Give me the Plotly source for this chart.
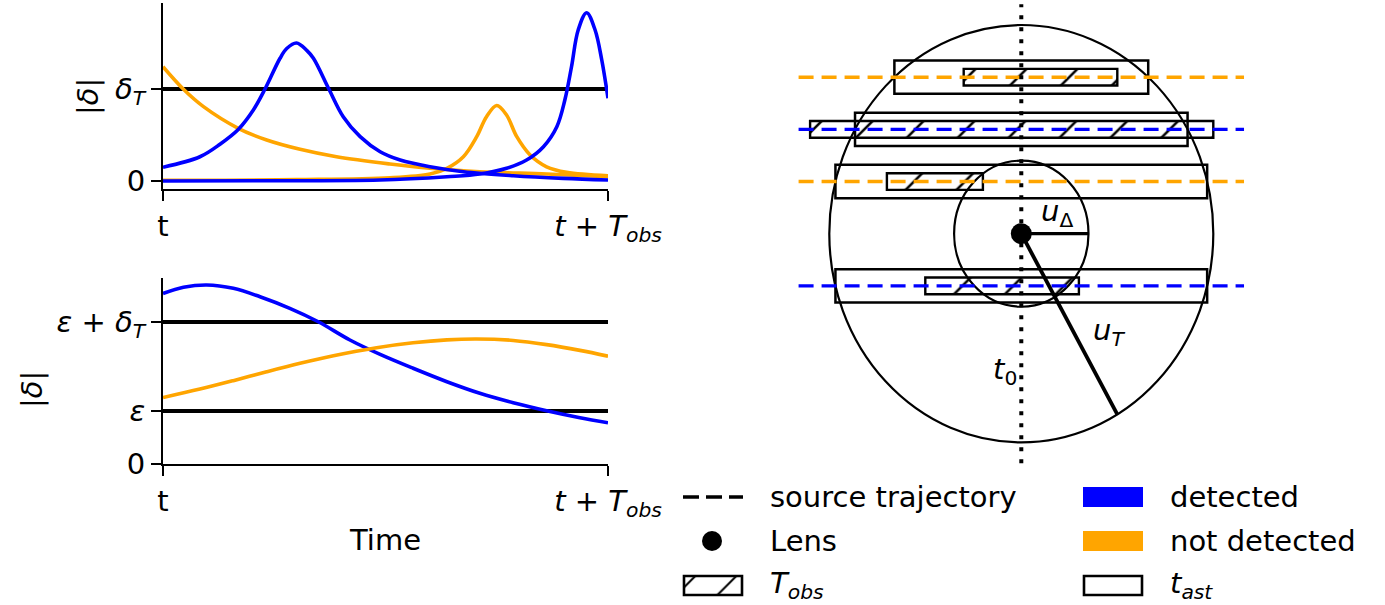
import plotly.graph_objects as go

W, H = 1385, 605
BLUE = "#0000ff"
ORANGE = "#ffa500"
FONT = "DejaVu Sans"
FS = 29

# ---------------- top panel: |delta| within one observing window ----------------
top_blue_a_x = [0.0, 0.083, 0.128, 0.169, 0.203, 0.229, 0.263, 0.278, 0.300, 0.323, 0.338,
                0.373, 0.405, 0.443, 0.488, 0.533, 0.600, 0.675, 0.787, 0.900, 1.0]
top_blue_a_y = [0.15, 0.264, 0.40, 0.56, 0.772, 0.997, 1.334, 1.44, 1.50, 1.42, 1.334,
                0.997, 0.699, 0.482, 0.318, 0.228, 0.155, 0.101, 0.058, 0.029, 0.011]

top_blue_b_x = [0.0, 0.2, 0.488, 0.638, 0.712, 0.772, 0.817, 0.855, 0.885, 0.903, 0.918,
                0.933, 0.952, 0.971, 0.986, 1.0]
top_blue_b_y = [0.0, 0.003, 0.011, 0.047, 0.076, 0.138, 0.228, 0.373, 0.590, 0.880, 1.242,
                1.641, 1.829, 1.641, 1.315, 0.899]

top_orange_a_x = [0.0, 0.046, 0.091, 0.169, 0.233, 0.308, 0.390, 0.510, 0.600, 0.712, 0.862, 1.0]
top_orange_a_y = [1.242, 0.997, 0.808, 0.573, 0.446, 0.345, 0.264, 0.185, 0.138, 0.101, 0.076, 0.047]

top_orange_b_x = [0.0, 0.3, 0.51, 0.600, 0.638, 0.675, 0.705, 0.727, 0.750, 0.772, 0.795,
                  0.825, 0.862, 0.907, 1.0]
top_orange_b_y = [0.008, 0.015, 0.035, 0.076, 0.138, 0.264, 0.482, 0.699, 0.82, 0.717, 0.482,
                  0.283, 0.155, 0.095, 0.058]

delta_T = 1.0
top_ticks = [0.0, delta_T]
top_ticktext = ["0", "<i>δ</i><sub><i>T</i></sub>"]

# ---------------- bottom panel: |delta| with systematic floor epsilon ----------------
bot_blue_x = [0.0, 0.046, 0.098, 0.158, 0.218, 0.285, 0.349, 0.420, 0.488, 0.562, 0.638,
              0.712, 0.787, 0.862, 0.937, 1.0]
bot_blue_y = [1.92, 1.989, 2.015, 1.978, 1.883, 1.753, 1.602, 1.397, 1.235, 1.079, 0.928,
              0.798, 0.692, 0.602, 0.524, 0.467]

bot_orange_x = [0.0, 0.083, 0.158, 0.233, 0.308, 0.383, 0.480, 0.562, 0.638, 0.705, 0.787,
                0.862, 0.937, 1.0]
bot_orange_y = [0.75, 0.845, 0.94, 1.04, 1.135, 1.22, 1.31, 1.365, 1.398, 1.408, 1.392,
                1.345, 1.28, 1.215]

epsilon = 0.6
bot_ticks = [0.0, epsilon, epsilon + delta_T]
bot_ticktext = ["0", "<i>ε</i>", "<i>ε</i> + <i>δ</i><sub><i>T</i></sub>"]

time_ticks = [0.0, 1.0]
time_ticktext = ["t", "<i>t</i> + <i>T</i><sub><i>obs</i></sub>"]

# ---------------- right panel: lens plane geometry ----------------
u_T = 1.0
u_Delta = 0.35
u_T_end = (0.5, -0.866)
traj_y = [0.75, 0.5, 0.25, -0.25]
traj_color = [ORANGE, BLUE, ORANGE, BLUE]
tobs_start = [-0.3, -1.1, -0.7, -0.5]
tobs_length = [0.8, 2.1, 0.5, 0.8]
tast_half_width = [0.661, 0.866, 0.968, 0.968]

fig = go.Figure()


def curve(x, y, color, xa, ya):
    fig.add_trace(go.Scatter(x=x, y=y, mode="lines", xaxis=xa, yaxis=ya,
                             line=dict(color=color, width=3.6, shape="spline", smoothing=1.0),
                             hoverinfo="skip"))


# threshold lines
fig.add_trace(go.Scatter(x=[0, 1], y=[delta_T, delta_T], mode="lines", xaxis="x", yaxis="y",
                         line=dict(color="black", width=4), hoverinfo="skip"))
for lvl in [epsilon, epsilon + delta_T]:
    fig.add_trace(go.Scatter(x=[0, 1], y=[lvl, lvl], mode="lines", xaxis="x2", yaxis="y2",
                             line=dict(color="black", width=4), hoverinfo="skip"))

curve(top_orange_a_x, top_orange_a_y, ORANGE, "x", "y")
curve(top_orange_b_x, top_orange_b_y, ORANGE, "x", "y")
curve(top_blue_a_x, top_blue_a_y, BLUE, "x", "y")
curve(top_blue_b_x, top_blue_b_y, BLUE, "x", "y")

curve(bot_blue_x, bot_blue_y, BLUE, "x2", "y2")
curve(bot_orange_x, bot_orange_y, ORANGE, "x2", "y2")

HATCH = dict(shape="/", fgcolor="black", fgopacity=1, bgcolor="rgba(0,0,0,0)",
             size=36, solidity=0.07)

# observing windows (hatched)
fig.add_trace(go.Bar(
    orientation="h", y=traj_y, x=tobs_length, base=tobs_start, width=0.08,
    xaxis="x3", yaxis="y3",
    marker=dict(color="rgba(0,0,0,0)", line=dict(color="black", width=2.4), pattern=HATCH),
    hoverinfo="skip"))

# source trajectories
for yv, col in zip(traj_y, traj_color):
    fig.add_trace(go.Scatter(x=[-1.16, 1.16], y=[yv, yv], mode="lines", xaxis="x3", yaxis="y3",
                             line=dict(color=col, width=3.4, dash="15px,8px"), hoverinfo="skip"))

# time of closest approach axis
fig.add_trace(go.Scatter(x=[0, 0], y=[-1.1 * u_T, 1.1 * u_T], mode="lines", xaxis="x3", yaxis="y3",
                         line=dict(color="black", width=4, dash="4px,8px"), hoverinfo="skip"))
# radii
fig.add_trace(go.Scatter(x=[0, u_Delta], y=[0, 0], mode="lines", xaxis="x3", yaxis="y3",
                         line=dict(color="black", width=3.3), hoverinfo="skip"))
fig.add_trace(go.Scatter(x=[0, u_T_end[0]], y=[0, u_T_end[1]], mode="lines", xaxis="x3", yaxis="y3",
                         line=dict(color="black", width=3.8), hoverinfo="skip"))
# lens
fig.add_trace(go.Scatter(x=[0], y=[0], mode="markers", xaxis="x3", yaxis="y3",
                         marker=dict(color="black", size=21), hoverinfo="skip"))

shapes = []
for r in [u_T, u_Delta]:
    shapes.append(dict(type="circle", xref="x3", yref="y3", x0=-r, x1=r, y0=-r, y1=r,
                       line=dict(color="black", width=2.2), layer="below"))
for yv, hw in zip(traj_y, tast_half_width):
    shapes.append(dict(type="rect", xref="x3", yref="y3", x0=-hw, x1=hw, y0=yv - 0.08, y1=yv + 0.08,
                       line=dict(color="black", width=2.5), layer="below"))

# ---------------- legend (pixel coordinates on an overlay axis) ----------------
shapes.append(dict(type="line", xref="x4", yref="y4", x0=683, x1=743, y0=497, y1=497,
                   line=dict(color="black", width=3.4, dash="16px,7px")))
shapes.append(dict(type="rect", xref="x4", yref="y4", x0=1083, x1=1143, y0=487, y1=507,
                   fillcolor=BLUE, line=dict(width=0)))
shapes.append(dict(type="rect", xref="x4", yref="y4", x0=1083, x1=1143, y0=531, y1=551,
                   fillcolor=ORANGE, line=dict(width=0)))
shapes.append(dict(type="rect", xref="x4", yref="y4", x0=1084, x1=1142, y0=576, y1=595,
                   line=dict(color="black", width=2.6)))
fig.add_trace(go.Scatter(x=[712], y=[541], mode="markers", xaxis="x4", yaxis="y4",
                         marker=dict(color="black", size=20), hoverinfo="skip"))
fig.add_trace(go.Bar(orientation="h", y=[585.5], x=[58], base=[684], width=19,
                     xaxis="x4", yaxis="y4",
                     marker=dict(color="rgba(0,0,0,0)", line=dict(color="black", width=2.6),
                                 pattern=dict(HATCH, size=29)),
                     hoverinfo="skip"))

ann = []


def text(x, y, s, xanchor="left", angle=0, xref="x4", yref="y4"):
    ann.append(dict(x=x, y=y, xref=xref, yref=yref, text=s, showarrow=False, xanchor=xanchor,
                    yanchor="middle", textangle=angle, font=dict(family=FONT, size=FS, color="black")))


text(768, 497, "source trajectory")
text(768, 541, "Lens")
text(768, 585, "<i>T</i><sub><i>obs</i></sub>")
text(1168, 497, "detected")
text(1168, 541, "not detected")
text(1168, 585, "<i>t</i><sub><i>ast</i></sub>")
text(385, 540, "Time", xanchor="center")
text(88, 97, "|<i>δ</i>|", xanchor="center", angle=-90)
text(32, 390, "|<i>δ</i>|", xanchor="center", angle=-90)
text(0.186, 0.098, "<i>u</i><sub>Δ</sub>", xanchor="center", xref="x3", yref="y3")
text(0.457, -0.47, "<i>u</i><sub><i>T</i></sub>", xanchor="center", xref="x3", yref="y3")
text(-0.085, -0.656, "<i>t</i><sub>0</sub>", xanchor="center", xref="x3", yref="y3")

axis_common = dict(showgrid=False, zeroline=False, showline=True, linecolor="black", linewidth=2,
                   ticks="outside", ticklen=10, tickwidth=2, tickcolor="black", automargin=False,
                   tickfont=dict(family=FONT, size=FS, color="black"), fixedrange=True)

xdom = [163 / W, 608 / W]
fig.update_layout(
    width=W, height=H, margin=dict(l=0, r=0, t=0, b=0),
    paper_bgcolor="white", plot_bgcolor="rgba(0,0,0,0)", showlegend=False,
    font=dict(family=FONT, size=FS, color="black"),
    xaxis=dict(domain=xdom, range=[0, 1], anchor="y", tickvals=time_ticks, ticktext=time_ticktext,
               **axis_common),
    yaxis=dict(domain=[1 - 189.3 / H, 1 - 3.3 / H], range=[-0.09, 1.9315], anchor="x",
               tickvals=top_ticks, ticktext=top_ticktext, **axis_common),
    xaxis2=dict(domain=xdom, range=[0, 1], anchor="y2", tickvals=time_ticks, ticktext=time_ticktext,
                **axis_common),
    yaxis2=dict(domain=[1 - 464.3 / H, 1 - 278.3 / H], range=[0, 2.09], anchor="x2",
                tickvals=bot_ticks, ticktext=bot_ticktext, **axis_common),
    xaxis3=dict(domain=[790 / W, 1250 / W], range=[(790 - 1021.3) / 192, (1250 - 1021.3) / 192],
                anchor="y3", visible=False, fixedrange=True),
    yaxis3=dict(domain=[1 - 470 / H, 1], range=[(233.7 - 470) / 208.7, 233.7 / 208.7],
                anchor="x3", visible=False, fixedrange=True),
    xaxis4=dict(domain=[0, 1], range=[0, W], anchor="y4", visible=False, fixedrange=True),
    yaxis4=dict(domain=[0, 1], range=[H, 0], anchor="x4", visible=False, fixedrange=True),
    shapes=shapes, annotations=ann, barmode="overlay",
)

fig.write_html("out.html")
